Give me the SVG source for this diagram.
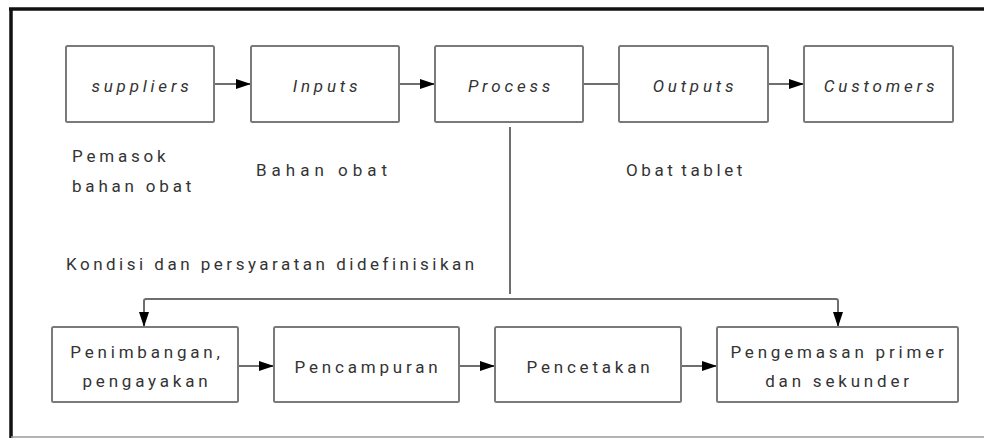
<svg xmlns="http://www.w3.org/2000/svg" width="984" height="438" viewBox="0 0 984 438">
  <style>
    .box { fill: #ffffff; stroke: #7a7a7a; stroke-width: 2; }
    .conn { fill: none; stroke: #6e6e6e; stroke-width: 2; }
    .lbl { font-family: Roboto, "Liberation Sans", sans-serif; font-size: 17px; fill: #333333; letter-spacing: 3.8px; }
    .it { font-style: italic; text-anchor: middle; }
    .mid { text-anchor: middle; }
  </style>
  <defs>
    <marker id="arrow" markerUnits="userSpaceOnUse" markerWidth="15" markerHeight="10" refX="15" refY="5" orient="auto">
      <path d="M0,0 L15,5 L0,10 z" fill="#000000"/>
    </marker>
  </defs>

  <rect width="984" height="438" fill="#ffffff"/>

  <!-- frame -->
  <g id="frame">
    <line x1="9" y1="9" x2="984" y2="9" stroke="#111111" stroke-width="3.5"/>
    <line x1="11" y1="8" x2="11" y2="438" stroke="#111111" stroke-width="3.5"/>
    <line x1="11" y1="437" x2="984" y2="437" stroke="#9a9a9a" stroke-width="1.5"/>
  </g>

  <!-- connectors -->
  <g id="connectors">
    <line class="conn" x1="214" y1="84" x2="251" y2="84" marker-end="url(#arrow)"/>
    <line class="conn" x1="399" y1="84" x2="435" y2="84" marker-end="url(#arrow)"/>
    <line class="conn" x1="583" y1="84" x2="619" y2="84"/>
    <line class="conn" x1="768" y1="84" x2="804" y2="84" marker-end="url(#arrow)"/>
    <line class="conn" x1="510" y1="127" x2="510" y2="294"/>
    <path class="conn" d="M510,299 H146 Q144,299 144,301 V327" marker-end="url(#arrow)"/>
    <path class="conn" d="M510,299 H836 Q838,299 838,301 V327" marker-end="url(#arrow)"/>
    <line class="conn" x1="238" y1="366" x2="274" y2="366" marker-end="url(#arrow)"/>
    <line class="conn" x1="459" y1="366" x2="495" y2="366" marker-end="url(#arrow)"/>
    <line class="conn" x1="681" y1="366" x2="717" y2="366" marker-end="url(#arrow)"/>
  </g>

  <!-- top row -->
  <g id="suppliers">
    <rect class="box" x="66" y="46" width="148" height="76" rx="1.5"/>
    <text class="lbl it" x="142" y="92">suppliers</text>
  </g>
  <g id="inputs">
    <rect class="box" x="251" y="46" width="148" height="76" rx="1.5"/>
    <text class="lbl it" x="327" y="92">Inputs</text>
  </g>
  <g id="process">
    <rect class="box" x="435" y="46" width="148" height="76" rx="1.5"/>
    <text class="lbl it" x="511" y="92">Process</text>
  </g>
  <g id="outputs">
    <rect class="box" x="619" y="46" width="149" height="76" rx="1.5"/>
    <text class="lbl it" x="695" y="92">Outputs</text>
  </g>
  <g id="customers">
    <rect class="box" x="804" y="46" width="149" height="76" rx="1.5"/>
    <text class="lbl it" x="881" y="92">Customers</text>
  </g>

  <!-- annotations -->
  <g id="notes">
    <text class="lbl" x="72" y="162">Pemasok</text>
    <text class="lbl" x="72" y="192">bahan obat</text>
    <text class="lbl" x="256" y="176" style="letter-spacing:5px">Bahan obat</text>
    <text class="lbl" x="626" y="176" style="letter-spacing:3.6px; word-spacing:-3px">Obat tablet</text>
    <text class="lbl" x="66" y="270" style="letter-spacing:3.5px">Kondisi dan persyaratan didefinisikan</text>
  </g>

  <!-- bottom row -->
  <g id="penimbangan">
    <rect class="box" x="52" y="327" width="186" height="75" rx="1.5"/>
    <text class="lbl mid" x="147" y="358">Penimbangan,</text>
    <text class="lbl mid" x="147" y="387">pengayakan</text>
  </g>
  <g id="pencampuran">
    <rect class="box" x="274" y="327" width="185" height="75" rx="1.5"/>
    <text class="lbl mid" x="368" y="373">Pencampuran</text>
  </g>
  <g id="pencetakan">
    <rect class="box" x="495" y="327" width="186" height="75" rx="1.5"/>
    <text class="lbl mid" x="590" y="373">Pencetakan</text>
  </g>
  <g id="pengemasan">
    <rect class="box" x="717" y="327" width="241" height="75" rx="1.5"/>
    <text class="lbl mid" x="839" y="358">Pengemasan primer</text>
    <text class="lbl mid" x="839" y="387">dan sekunder</text>
  </g>
</svg>
